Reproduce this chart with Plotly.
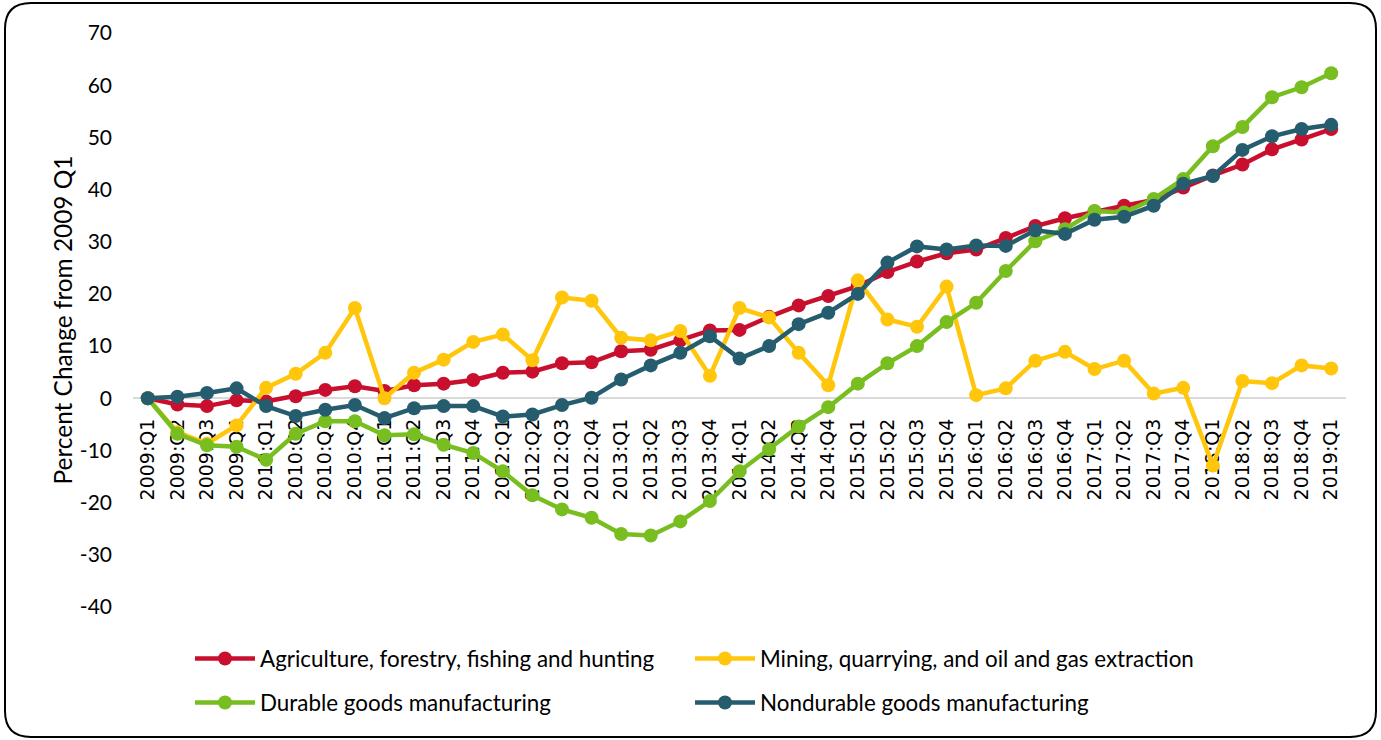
import plotly.graph_objects as go

quarters = [f"{y}:Q{q}" for y in range(2009, 2019) for q in range(1, 5)] + ["2019:Q1"]

agriculture = [0, -1.2, -1.5, -0.4, -0.6, 0.4, 1.6, 2.3, 1.4, 2.5, 2.8, 3.5, 4.9, 5.1, 6.7, 6.9,
               9.0, 9.3, 11.1, 13.0, 13.1, 15.6, 17.8, 19.6, 21.5, 24.2, 26.2, 27.8, 28.5, 30.7,
               33.0, 34.5, 35.8, 36.9, 38.0, 40.4, 42.7, 44.8, 47.7, 49.6, 51.6]
mining = [0, -6.5, -8.7, -5.2, 2.0, 4.7, 8.7, 17.3, 0.0, 4.9, 7.4, 10.8, 12.2, 7.3, 19.3, 18.7,
          11.6, 11.1, 12.9, 4.3, 17.3, 15.5, 8.7, 2.5, 22.6, 15.1, 13.7, 21.4, 0.6, 1.9,
          7.2, 8.9, 5.6, 7.2, 0.9, 2.0, -12.9, 3.3, 2.9, 6.3, 5.7]
durable = [0, -6.8, -9.0, -9.3, -11.8, -6.8, -4.4, -4.4, -7.1, -6.9, -8.9, -10.5, -14.0, -18.6, -21.3, -22.9,
           -26.0, -26.3, -23.6, -19.7, -14.0, -9.8, -5.4, -1.7, 2.8, 6.7, 10.0, 14.6, 18.3, 24.4,
           30.1, 32.4, 35.9, 35.6, 38.2, 42.0, 48.3, 52.0, 57.7, 59.6, 62.3]
nondurable = [0, 0.3, 1.0, 1.9, -1.5, -3.4, -2.2, -1.3, -3.8, -1.9, -1.5, -1.5, -3.5, -3.1, -1.3, 0.1,
              3.6, 6.3, 8.7, 11.9, 7.6, 10.0, 14.2, 16.4, 20.0, 26.0, 29.1, 28.5, 29.3, 29.2,
              32.2, 31.5, 34.2, 34.8, 36.9, 41.1, 42.6, 47.6, 50.2, 51.6, 52.4]

y_ticks = [-40, -30, -20, -10, 0, 10, 20, 30, 40, 50, 60, 70]
y_tick_labels = [str(v) for v in y_ticks]

names = ["Agriculture, forestry, fishing and hunting",
         "Mining, quarrying, and oil and gas extraction",
         "Durable goods manufacturing",
         "Nondurable goods manufacturing"]
colors = ["#C8102E", "#FFC60B", "#78BE20", "#255D6F"]
series = [agriculture, mining, durable, nondurable]
legends = ["legend", "legend2", "legend3", "legend4"]

fig = go.Figure()
for name, vals, col, lg in zip(names, series, colors, legends):
    fig.add_trace(go.Scatter(
        x=quarters, y=vals, name=name, mode="lines+markers",
        line=dict(color=col, width=4.5),
        marker=dict(color=col, size=14),
        legend=lg,
    ))

W, H = 1381, 740
L, R, T, B = 133, 35, 33, 133
pw, ph = W - L - R, H - T - B

def px(x):
    return (x - L) / pw

def py(y):
    return (H - B - y) / ph

# rounded border
x0, x1, y0, y1, r = 5, 1376, 3, 737, 26
path = (f"M{px(x0 + r)},{py(y0)} L{px(x1 - r)},{py(y0)} Q{px(x1)},{py(y0)} {px(x1)},{py(y0 + r)} "
        f"L{px(x1)},{py(y1 - r)} Q{px(x1)},{py(y1)} {px(x1 - r)},{py(y1)} "
        f"L{px(x0 + r)},{py(y1)} Q{px(x0)},{py(y1)} {px(x0)},{py(y1 - r)} "
        f"L{px(x0)},{py(y0 + r)} Q{px(x0)},{py(y0)} {px(x0 + r)},{py(y0)} Z")
fig.add_shape(type="path", path=path, xref="paper", yref="paper",
              line=dict(color="black", width=2), layer="above")

leg_common = dict(orientation="h", xanchor="left", yanchor="middle",
                  font=dict(family="Lato", size=22.4, color="black"),
                  itemwidth=60, bgcolor="rgba(0,0,0,0)")

fig.update_layout(
    width=W, height=H,
    margin=dict(l=L, r=R, t=T, b=B, autoexpand=False),
    paper_bgcolor="white", plot_bgcolor="white",
    showlegend=True,
    legend=dict(x=px(190), y=py(659), **leg_common),
    legend2=dict(x=px(690), y=py(659), **leg_common),
    legend3=dict(x=px(190), y=py(703), **leg_common),
    legend4=dict(x=px(690), y=py(703), **leg_common),
    xaxis=dict(type="category", range=[-0.5, 40.5], anchor="free", position=(0 + 40) / 110,
               showline=True, linecolor="#D9D9D9", linewidth=1.5, showgrid=False,
               ticks="outside", ticklen=12, tickcolor="rgba(0,0,0,0)", tickangle=-90,
               tickfont=dict(family="DejaVu Sans", size=19, color="black"),
               layer="below traces", automargin=False),
    yaxis=dict(range=[-40, 70], tickvals=y_ticks, ticktext=y_tick_labels,
               showgrid=False, zeroline=False, showline=False,
               ticks="", tickfont=dict(family="Lato", size=21, color="black"),
               ticklabelstandoff=20, automargin=False,
               title=dict(text="Percent Change from 2009 Q1",
                          font=dict(family="Lato", size=24.4, color="black"), standoff=0)),
)

fig.write_html("out.html", post_script="document.body.style.margin='0';",
               config={"displayModeBar": False})
